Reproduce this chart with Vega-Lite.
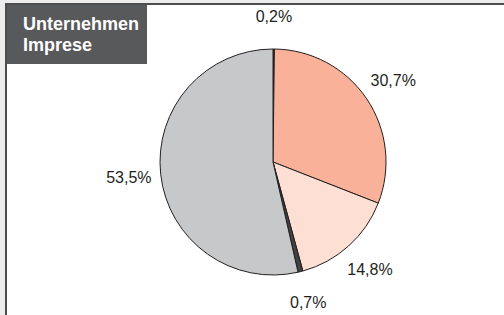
{
  "$schema": "https://vega.github.io/schema/vega-lite/v6.json",
  "width": 534,
  "height": 316,
  "autosize": {"type": "none"},
  "padding": {"left": 6, "top": 4, "right": 0, "bottom": 0},
  "background": "#ececec",
  "view": {"fill": "white", "stroke": "#4d4d4f", "strokeWidth": 2},
  "datasets": {
    "slices": [
      {"order": 1, "label": "0,2%", "value": 0.2, "cat": "a"},
      {"order": 2, "label": "30,7%", "value": 30.7, "cat": "b"},
      {"order": 3, "label": "14,8%", "value": 14.8, "cat": "c"},
      {"order": 4, "label": "0,7%", "value": 0.7, "cat": "d"},
      {"order": 5, "label": "53,5%", "value": 53.5, "cat": "e"}
    ]
  },
  "layer": [
    {
      "data": {"name": "slices"},
      "mark": {"type": "arc", "outerRadius": 113, "stroke": "#231f20", "strokeWidth": 1},
      "encoding": {
        "theta": {"field": "value", "type": "quantitative", "stack": true},
        "order": {"field": "order", "type": "quantitative"},
        "color": {
          "field": "cat",
          "type": "nominal",
          "scale": {"domain": ["a", "b", "c", "d", "e"], "range": ["#6b2a1e", "#f9b299", "#fddfd4", "#414042", "#c7c8ca"]},
          "legend": null
        }
      }
    },
    {
      "data": {"name": "slices"},
      "mark": {"type": "text", "radius": 145, "fontSize": 16, "font": "Liberation Sans", "fill": "#231f20"},
      "encoding": {
        "theta": {"field": "value", "type": "quantitative", "stack": true},
        "order": {"field": "order", "type": "quantitative"},
        "text": {"field": "label", "type": "nominal"}
      }
    },
    {
      "data": {"values": [{}]},
      "mark": {"type": "rect", "x": 1, "x2": 141, "y": 1, "y2": 60, "fill": "#58595b"},
      "encoding": {}
    },
    {
      "data": {"values": [{}]},
      "mark": {
        "type": "text",
        "x": 17,
        "y": 26,
        "align": "left",
        "baseline": "alphabetic",
        "text": ["Unternehmen", "Imprese"],
        "lineHeight": 21,
        "font": "Liberation Sans",
        "fontWeight": "bold",
        "fontSize": 18,
        "fill": "white"
      },
      "encoding": {}
    }
  ]
}
